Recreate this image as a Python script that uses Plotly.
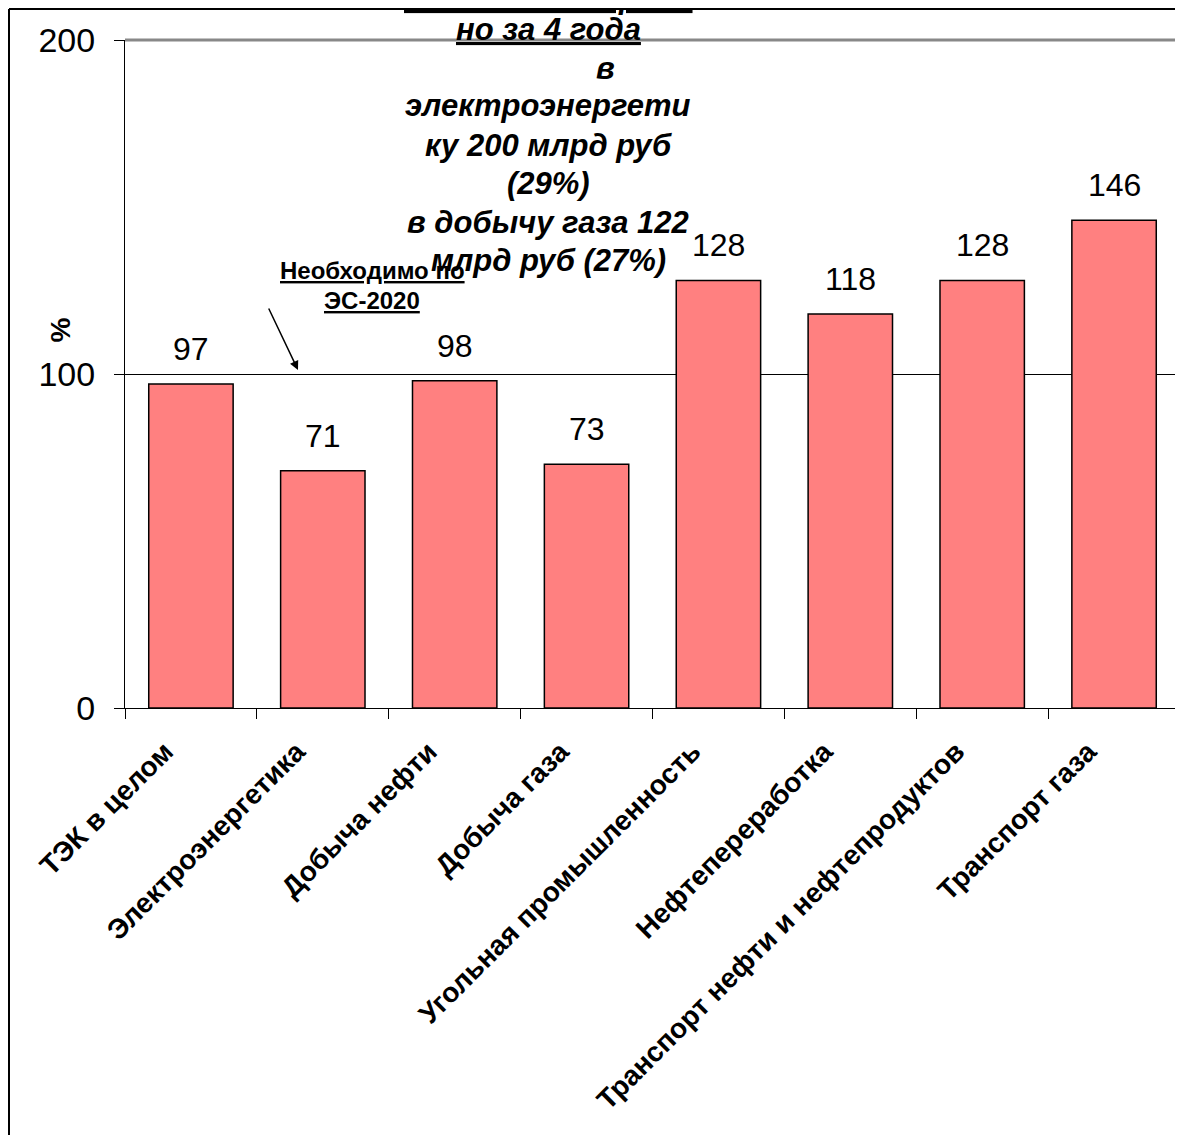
import plotly.graph_objects as go

categories = ["ТЭК в целом", "Электроэнергетика", "Добыча нефти", "Добыча газа",
              "Угольная промышленность", "Нефтепереработка",
              "Транспорт нефти и нефтепродуктов", "Транспорт газа"]
values = [97, 71, 98, 73, 128, 118, 128, 146]
y_ticks = [0, 100, 200]

note_lines = ["Недоинвестирова", "но за 4 года", "в", "электроэнергети",
              "ку 200 млрд руб", "(29%)", "в добычу газа 122", "млрд руб (27%)"]
note_underline = [True, True, False, False, False, False, False, False]

# page geometry (browser body adds an 8px offset)
OFF = 8
W, H = 1183 - OFF, 1135 - OFF
PX0, PX1, PY0, PY1 = 125, 1180, 40, 708   # plot area in page pixels
L = PX0 - OFF
T = PY0 - OFF
R = W - (PX1 - OFF)
B = H - (PY1 - OFF)

def px(x):
    return (x - PX0) / (PX1 - PX0)

def py(y):
    return (PY1 - y) / (PY1 - PY0)

FONT = "Liberation Sans, Arial, sans-serif"

fig = go.Figure()
fig.add_trace(go.Bar(
    x=categories, y=values,
    marker=dict(color="#FF8080", line=dict(color="black", width=1.5)),
    width=0.64,
))

for c, v in zip(categories, values):
    fig.add_annotation(x=c, y=v, text=str(v), showarrow=False, yanchor="bottom",
                       yshift=15, font=dict(family=FONT, size=32, color="black"))

# large text block, one annotation per line
line_y = [-3, 30, 68, 106, 145, 183, 222, 260]
line_x = [548, 548, 605, 548, 548, 548, 548, 548]
for txt, ul, xx, yy in zip(note_lines, note_underline, line_x, line_y):
    fig.add_annotation(xref="paper", yref="paper", x=px(xx), y=py(yy),
                       text=f"<u>{txt}</u>" if ul else txt,
                       showarrow=False, xanchor="center", yanchor="middle",
                       font=dict(family=FONT, size=31, color="black",
                                 weight="bold", style="italic"))

# small note with arrow
fig.add_annotation(xref="paper", yref="paper", x=px(372), y=py(270),
                   text="<u>Необходимо по</u>", showarrow=False,
                   xanchor="center", yanchor="middle",
                   font=dict(family=FONT, size=24, color="black", weight="bold"))
fig.add_annotation(xref="paper", yref="paper", x=px(372), y=py(300),
                   text="<u>ЭС-2020</u>", showarrow=False,
                   xanchor="center", yanchor="middle",
                   font=dict(family=FONT, size=24, color="black", weight="bold"))
fig.add_annotation(xref="paper", yref="paper", x=px(298), y=py(370), text="",
                   showarrow=True, ax=-30, ay=-63, arrowhead=2, arrowsize=1.2,
                   arrowwidth=1.5, arrowcolor="black")

# y axis title
fig.add_annotation(xref="paper", yref="paper", x=px(42), y=py(330), text="%",
                   textangle=-90, showarrow=False,
                   font=dict(family=FONT, size=28, color="black", weight="bold"))

shapes = [
    # black panel borders
    dict(type="line", xref="paper", yref="paper", x0=px(OFF + 1), x1=px(OFF + 1),
         y0=py(1135), y1=py(OFF + 1), line=dict(color="black", width=2)),
    dict(type="line", xref="paper", yref="paper", x0=px(OFF + 1), x1=px(1183),
         y0=py(OFF + 1), y1=py(OFF + 1), line=dict(color="black", width=2)),
    # grey plot frame top/right
    dict(type="line", xref="paper", yref="paper", x0=0, x1=1, y0=1, y1=1,
         line=dict(color="#888888", width=3)),
    dict(type="line", xref="paper", yref="paper", x0=1, x1=1, y0=0, y1=1,
         line=dict(color="#888888", width=3)),
]

fig.update_layout(
    width=W, height=H,
    margin=dict(l=L, r=R, t=T, b=B, autoexpand=False),
    paper_bgcolor="white", plot_bgcolor="white",
    showlegend=False, bargap=0.36,
    shapes=shapes,
    xaxis=dict(tickangle=-45, tickson="boundaries", ticks="outside", ticklen=10,
               tickcolor="black", showline=True, linecolor="black", linewidth=1,
               showgrid=False, ticklabelstandoff=15, ticklabelshift=-26,
               tickfont=dict(family=FONT, size=28, color="black", weight="bold")),
    yaxis=dict(range=[0, 200], tickvals=y_ticks, ticks="outside", ticklen=10,
               tickcolor="black", showline=True, linecolor="black", linewidth=1,
               showgrid=True, gridcolor="black", gridwidth=1, zeroline=False,
               ticklabelstandoff=12,
               tickfont=dict(family=FONT, size=34, color="black")),
)

fig.write_html("out.html")
